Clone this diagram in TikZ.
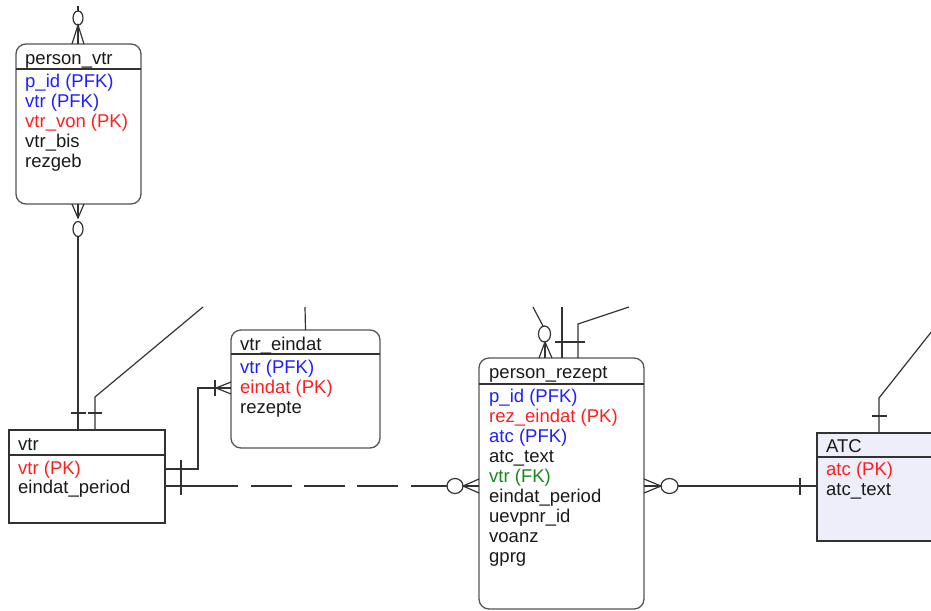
\documentclass[tikz,border=0pt]{standalone}
\usepackage{fontspec}
\setmainfont{Liberation Sans}
\usetikzlibrary{calc}
\definecolor{keyblue}{RGB}{30,30,255}
\definecolor{keyred}{RGB}{255,30,30}
\definecolor{keygreen}{RGB}{25,135,25}
\definecolor{boxgray}{RGB}{85,85,85}
\definecolor{linegray}{RGB}{50,50,50}
\definecolor{atcfill}{RGB}{238,238,250}
\begin{document}
\begin{tikzpicture}[x=1pt,y=-1pt,
  ent/.style={draw=linegray, line width=1.3pt, inner sep=0pt, outer sep=0pt, anchor=north west},
  rent/.style={ent, draw=boxgray, rounded corners=10pt},
  sepline/.style={draw=linegray, line width=1.3pt},
  txt/.style={anchor=base west, inner sep=0pt, text=black!90, font=\fontsize{18.5}{20}\selectfont},
  con/.style={draw=linegray, line width=1.2pt},
  bl/.style={txt, text=keyblue},
  rd/.style={txt, text=keyred},
  gr/.style={txt, text=keygreen},
]
\useasboundingbox (0,0) rectangle (931,610);
\clip (0,0) rectangle (931,610);

% ---------- entities ----------
\node[rent, minimum width=125pt, minimum height=160pt] (pv) at (16,44) {};
\node[ent, minimum width=156pt, minimum height=93pt] (vtr) at (9,430) {};
\node[rent, minimum width=149pt, minimum height=118pt] (ve) at (231,330) {};
\node[rent, minimum width=165pt, minimum height=251pt] (pr) at (479,358) {};
\node[ent, fill=atcfill, minimum width=130pt, minimum height=108pt] (atc) at (817,433) {};

\draw[sepline] (pv.west |- 0,69) -- (pv.east |- 0,69);
\draw[sepline] (vtr.west |- 0,455) -- (vtr.east |- 0,455);
\draw[sepline] (ve.west |- 0,354) -- (ve.east |- 0,354);
\draw[sepline] (pr.west |- 0,384) -- (pr.east |- 0,384);
\draw[sepline] (atc.west |- 0,457) -- (atc.east |- 0,457);

% ---------- texts ----------
\node[txt] (pvt) at (25,65) {person\_vtr};
\node[bl] (pv1) at (25,87) {p\_id (PFK)};
\node[bl] (pv2) at (25,107) {vtr (PFK)};
\node[rd] (pv3) at (25,127) {vtr\_von (PK)};
\node[txt] (pv4) at (25,147) {vtr\_bis};
\node[txt] (pv5) at (25,167) {rezgeb};

\node[txt] (vtrt) at (18,450) {vtr};
\node[rd] (vtr1) at (18,474) {vtr (PK)};
\node[txt] (vtr2) at (18,493) {eindat\_period};

\node[txt] (vet) at (240,350) {vtr\_eindat};
\node[bl] (ve1) at (240,373) {vtr (PFK)};
\node[rd] (ve2) at (240,393) {eindat (PK)};
\node[txt] (ve3) at (240,413) {rezepte};

\node[txt] (prt) at (489,378) {person\_rezept};
\node[bl] (pr1) at (489,402) {p\_id (PFK)};
\node[rd] (pr2) at (489,422) {rez\_eindat (PK)};
\node[bl] (pr3) at (489,442) {atc (PFK)};
\node[txt] (pr4) at (489,462) {atc\_text};
\node[gr] (pr5) at (489,482) {vtr (FK)};
\node[txt] (pr6) at (489,502) {eindat\_period};
\node[txt] (pr7) at (489,522) {uevpnr\_id};
\node[txt] (pr8) at (489,542) {voanz};
\node[txt] (pr9) at (489,562) {gprg};

\node[txt] (atct) at (826,452) {ATC};
\node[rd] (atc1) at (826,475) {atc (PK)};
\node[txt] (atc2) at (826,495) {atc\_text};

% ---------- connectors ----------
% above person_vtr
\coordinate (pvfree) at (78,6);
\coordinate (pvtop) at (78,44);
\draw[con] (pvfree) -- (78,11);
\draw[con] (78,18) ellipse [x radius=5, y radius=7];
\draw[con] (72,44) -- (78,25) -- (84,44);
\draw[con] (78,25) -- (pvtop);

% person_vtr -- vtr
\coordinate (pvb) at (78,204);
\draw[con] (72,204) -- (78,218) -- (84,204);
\draw[con] (pvb) -- (78,218);
\draw[con] (78,229) ellipse [x radius=5, y radius=7.5];
\draw[con] (78,236.5) -- (vtr.north -| pvb);
\draw[con] (71,413) -- (86,413);

% vtr -- off picture
\coordinate (vtrfree) at (203,307);
\draw[con] (vtr.north -| 95,0) -- (95,397) -- (vtrfree);
\draw[con] (88,413) -- (102,413);

% vtr_eindat -- off picture
\coordinate (vefree) at (305,307);
\draw[con] (ve.north) -- (vefree);

% vtr -- vtr_eindat
\draw[con] (vtr.east |- 0,469) -- (198,469) -- (198,388) -- (ve.west |- 0,388);
\draw[con] (181,460) -- (181,478);
\draw[con] (215,380) -- (215,396);
\draw[con] (231,382) -- (216,388) -- (231,394);

% vtr -- person_rezept (dashed)
\draw[con, dash pattern=on 73pt off 13pt on 41pt off 12pt on 41pt off 12pt on 41pt off 13pt on 200pt]
  (vtr.east |- 0,486) -- (447,486);
\draw[con] (181,478) -- (181,495);
\draw[con] (455,486) ellipse [x radius=8, y radius=7.5];
\draw[con] (pr.west |- 0,479) -- (463,486) -- (pr.west |- 0,493);
\draw[con] (463,486) -- (pr.west |- 0,486);

% person_rezept -- ATC
\draw[con] (pr.east |- 0,479) -- (661,486) -- (pr.east |- 0,493);
\draw[con] (pr.east |- 0,486) -- (661,486);
\draw[con] (669.5,486) ellipse [x radius=8.5, y radius=7.5];
\draw[con] (678,486) -- (atc.west |- 0,486);
\draw[con] (800,478) -- (800,495);

% ATC -- off picture
\coordinate (atcfree) at (936,326);
\draw[con] (atc.north -| 879,0) -- (879,398) -- (atcfree);
\draw[con] (872,416) -- (887,416);

% person_rezept top
\coordinate (prfree1) at (533,307);
\coordinate (prfree2) at (562,307);
\coordinate (prfree3) at (629,307);
\draw[con] (pr.north west -| 539,0) -- (545,342) -- (pr.north west -| 552,0);
\draw[con] (545,342) -- (pr.north west -| 545,0);
\draw[con] (544.5,334) ellipse [x radius=6, y radius=8];
\draw[con] (543,326) -- (prfree1);
\draw[con] (pr.north west -| 562,0) -- (prfree2);
\draw[con] (pr.north west -| 578,0) -- (578,324) -- (prfree3);
\draw[con] (555,342) -- (585,342);
\end{tikzpicture}
\end{document}
